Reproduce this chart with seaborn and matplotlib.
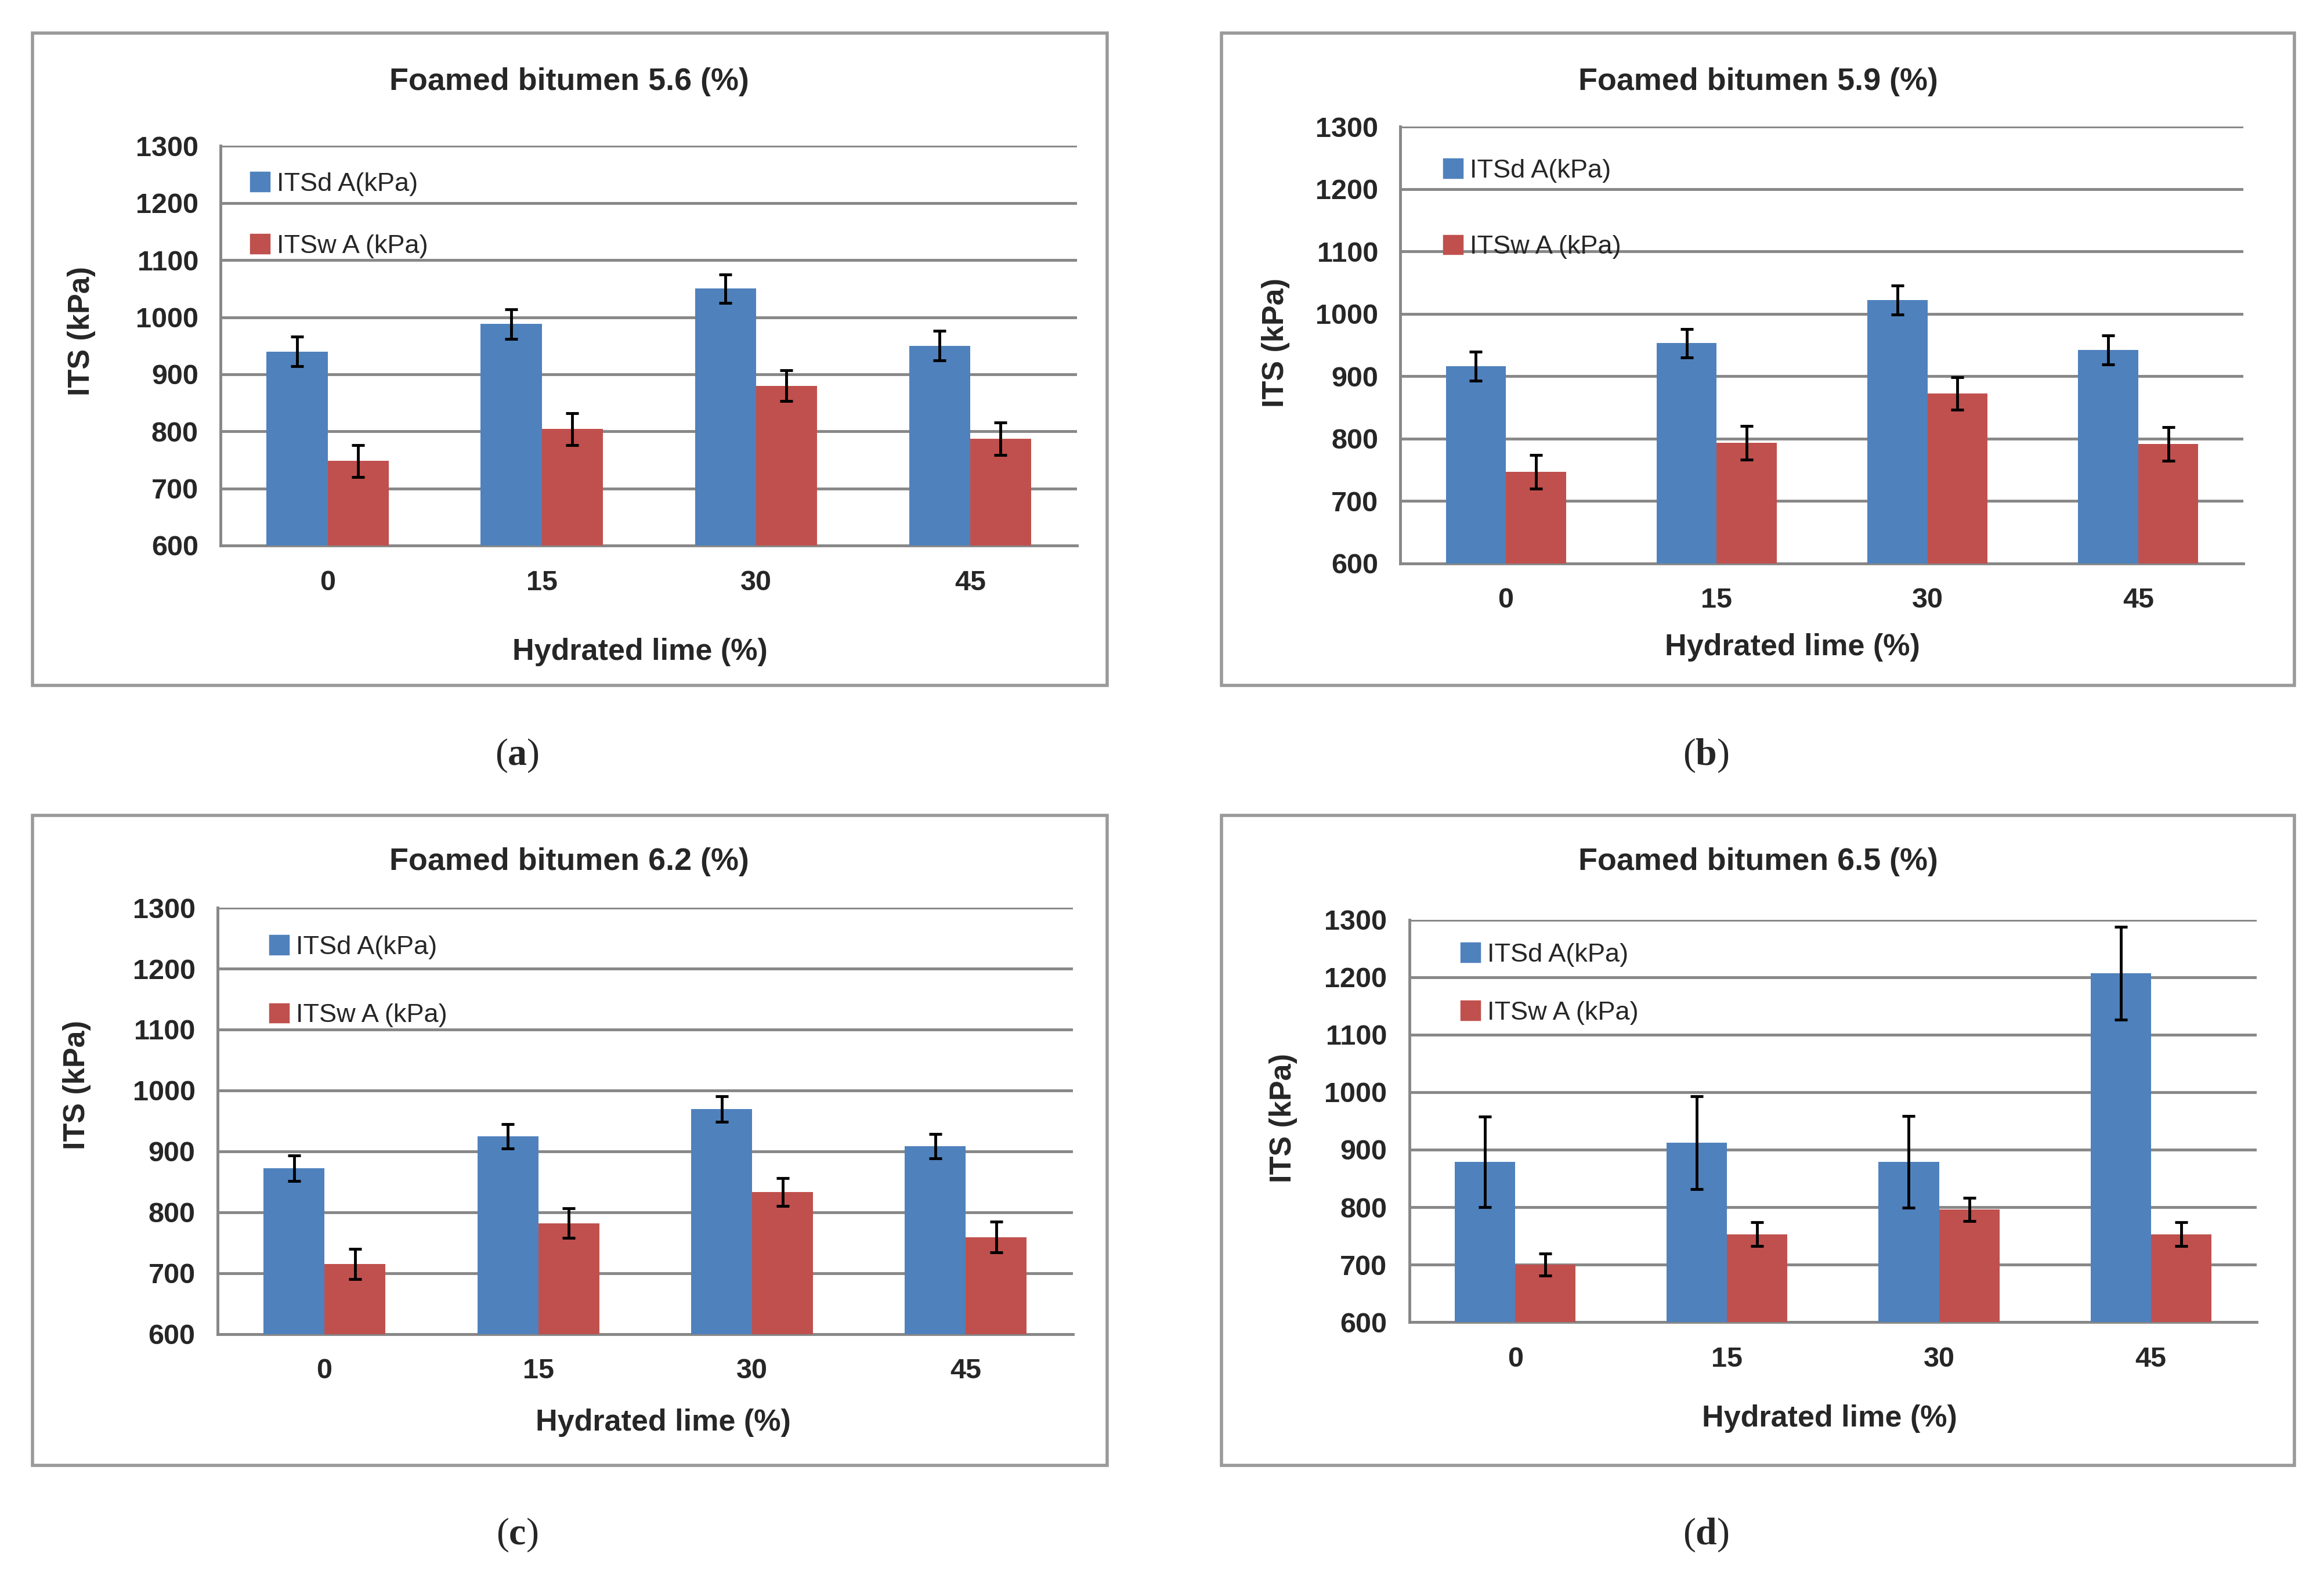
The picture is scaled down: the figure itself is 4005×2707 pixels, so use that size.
import matplotlib
matplotlib.use("Agg")
import matplotlib.pyplot as plt
import seaborn as sns
import pandas as pd
from matplotlib.patches import Patch, Rectangle

# Hydrated lime content (%)
lime = ["0", "15", "30", "45"]

# Foamed bitumen 5.6 %
dry_a = [940, 988, 1050, 950]
dry_a_err = [26, 26, 25, 26]
wet_a = [748, 804, 880, 787]
wet_a_err = [28, 28, 27, 28]

# Foamed bitumen 5.9 %
dry_b = [916, 953, 1022, 942]
dry_b_err = [23, 23, 23, 23]
wet_b = [747, 793, 872, 791]
wet_b_err = [27, 27, 26, 27]

# Foamed bitumen 6.2 %
dry_c = [872, 925, 969, 908]
dry_c_err = [21, 20, 21, 20]
wet_c = [715, 782, 833, 759]
wet_c_err = [25, 24, 23, 25]

# Foamed bitumen 6.5 %
dry_d = [879, 912, 879, 1207]
dry_d_err = [79, 81, 80, 81]
wet_d = [700, 753, 796, 753]
wet_d_err = [19, 21, 20, 21]

titles = ["Foamed bitumen 5.6 (%)", "Foamed bitumen 5.9 (%)",
          "Foamed bitumen 6.2 (%)", "Foamed bitumen 6.5 (%)"]
captions = ["a", "b", "c", "d"]
series = ["ITSd A(kPa)", "ITSw A (kPa)"]
colors = ["#4F81BD", "#C0504D"]

sns.set_style("white")
plt.rcParams["font.family"] = ["Liberation Sans", "DejaVu Sans"]
plt.rcParams["mathtext.fontset"] = "custom"
plt.rcParams["mathtext.rm"] = "Liberation Serif"
plt.rcParams["mathtext.bf"] = "Liberation Serif:bold"

fig = plt.figure(figsize=(16.02, 10.828), dpi=250)

# layout in figure fractions
axes_rect = [
    [0.0949, 0.6528, 0.3686, 0.2543],
    [0.6026, 0.6414, 0.3628, 0.2780],
    [0.0936, 0.1509, 0.3680, 0.2713],
    [0.6064, 0.1584, 0.3647, 0.2562],
]
frames = [
    (0.0141, 0.5636, 0.4622, 0.4155),
    (0.5256, 0.5636, 0.4616, 0.4155),
    (0.0141, 0.0674, 0.4622, 0.4136),
    (0.5256, 0.0674, 0.4616, 0.4136),
]
title_pos = [(0.2449, 0.9478), (0.7564, 0.9478), (0.2449, 0.4516), (0.7564, 0.4516)]
cap_pos = [(0.2224, 0.519), (0.734, 0.519), (0.2224, 0.0228), (0.734, 0.0228)]
ylab_pos = [(-0.146, 0.537), (-0.131, 0.505), (-0.148, 0.584), (-0.132, 0.507)]
xlab_pos = [(0.49, -0.231), (0.465, -0.160), (0.521, -0.175), (0.496, -0.204)]
leg_pos = [(0.023, 0.96), (0.039, 0.95), (0.049, 0.96), (0.049, 0.968)]
leg_space = [1.45, 2.0, 1.7, 1.3]

panels = [
    (dry_a, dry_a_err, wet_a, wet_a_err),
    (dry_b, dry_b_err, wet_b, wet_b_err),
    (dry_c, dry_c_err, wet_c, wet_c_err),
    (dry_d, dry_d_err, wet_d, wet_d_err),
]

for i, (dry, dry_err, wet, wet_err) in enumerate(panels):
    fx, fy, fw, fh = frames[i]
    fig.patches.append(Rectangle((fx, fy), fw, fh, transform=fig.transFigure,
                                 fill=False, edgecolor="#9a9a9a", linewidth=1.6))

    ax = fig.add_axes(axes_rect[i])
    df = pd.DataFrame({
        "lime": lime * 2,
        "value": dry + wet,
        "series": [series[0]] * 4 + [series[1]] * 4,
    })
    sns.barplot(data=df, x="lime", y="value", hue="series", palette=colors,
                width=0.57, gap=0, errorbar=None, legend=False, ax=ax,
                saturation=1, linewidth=0, zorder=3)

    errs = [dry_err, wet_err]
    for cont, err in zip(ax.containers, errs):
        xs = [b.get_x() + b.get_width() / 2 for b in cont]
        ys = [b.get_height() + b.get_y() for b in cont]
        ax.errorbar(xs, ys, yerr=err, fmt="none", ecolor="black",
                    elinewidth=1.4, capsize=3.2, capthick=1.4, zorder=4)

    ax.set_ylim(600, 1300)
    ax.set_yticks(range(600, 1301, 100))
    ax.set_xlim(-0.5, 3.5)
    ax.yaxis.grid(True, color="#878787", linewidth=1.4, zorder=0)
    ax.set_axisbelow(True)
    for s in ["top", "right"]:
        ax.spines[s].set_visible(False)
    for s in ["left", "bottom"]:
        ax.spines[s].set_color("#878787")
        ax.spines[s].set_linewidth(1.4)
    ax.tick_params(axis="both", length=0, labelsize=14)
    ax.tick_params(axis="x", pad=12)
    ax.tick_params(axis="y", pad=11)
    for lab in ax.get_xticklabels() + ax.get_yticklabels():
        lab.set_fontweight("bold")

    ax.set_ylabel("ITS (kPa)", fontsize=15, fontweight="bold")
    ax.yaxis.set_label_coords(*ylab_pos[i])
    ax.set_xlabel("Hydrated lime (%)", fontsize=15, fontweight="bold")
    ax.xaxis.set_label_coords(*xlab_pos[i])

    handles = [Patch(color=c) for c in colors]
    ax.legend(handles, series, loc="upper left", bbox_to_anchor=leg_pos[i],
              frameon=False, fontsize=13, handlelength=0.7, handleheight=0.7,
              handletextpad=0.3, labelspacing=leg_space[i], borderaxespad=0)

    fig.text(*title_pos[i], titles[i], ha="center", va="center",
             fontsize=15.5, fontweight="bold")
    fig.text(*cap_pos[i], "($\\mathbf{" + captions[i] + "}$)", ha="center",
             va="center", fontsize=19, family=["Liberation Serif", "DejaVu Serif"])

fig.savefig("out.png", dpi=250)
